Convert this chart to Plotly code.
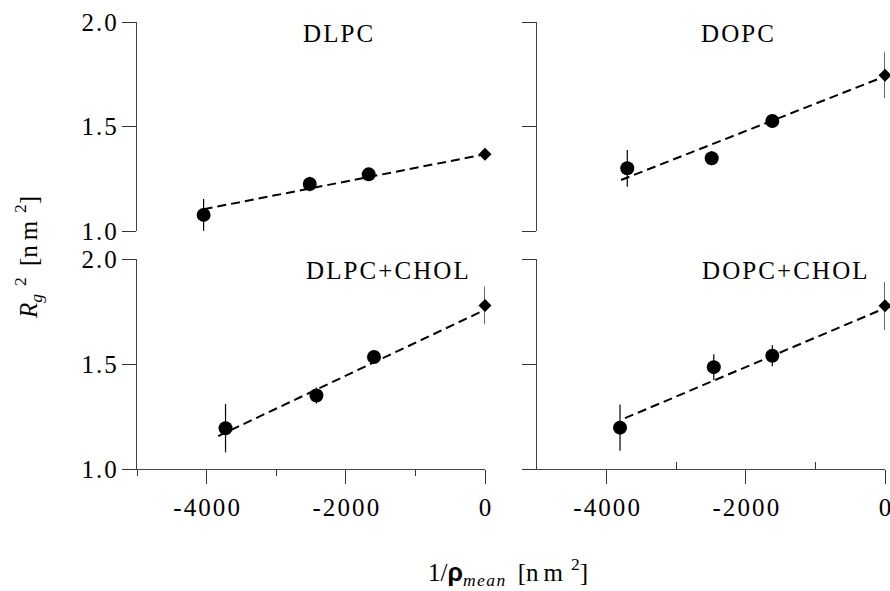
import plotly.graph_objects as go

# ---------------- data ----------------
panel_names = ["DLPC", "DOPC", "DLPC+CHOL", "DOPC+CHOL"]

# measured points (circles)
dlpc_x = [-4043, -2518, -1671]
dlpc_y = [1.077, 1.225, 1.271]
dlpc_err = [0.076, 0.035, 0.018]

dopc_x = [-3703, -2490, -1619]
dopc_y = [1.300, 1.348, 1.526]
dopc_err = [0.088, 0.033, 0.020]

dlpc_chol_x = [-3728, -2422, -1595]
dlpc_chol_y = [1.194, 1.350, 1.533]
dlpc_chol_err = [0.115, 0.038, 0.020]

dopc_chol_x = [-3807, -2460, -1619]
dopc_chol_y = [1.197, 1.485, 1.539]
dopc_chol_err = [0.110, 0.061, 0.050]

# extrapolated values at 1/rho = 0 (diamonds)
zero_x = [0, 0, 0, 0]
zero_y = [1.367, 1.745, 1.779, 1.777]
zero_err = [0.012, 0.110, 0.090, 0.114]

# dashed fit lines: start x, start y, end x, end y
fit_x0 = [-4043, -3793, -3833, -3736]
fit_y0 = [1.104, 1.244, 1.157, 1.242]
fit_x1 = [0, 0, 0, 0]
fit_y1 = [1.367, 1.740, 1.758, 1.766]

y_tickvals = [1.0, 1.5, 2.0]
y_ticktext = ["1.0", "1.5", "2.0"]
x_tickvals = [-4000, -2000, 0]
x_ticktext = ["-4000", "-2000", "0"]

pts_x = [dlpc_x, dopc_x, dlpc_chol_x, dopc_chol_x]
pts_y = [dlpc_y, dopc_y, dlpc_chol_y, dopc_chol_y]
pts_e = [dlpc_err, dopc_err, dlpc_chol_err, dopc_chol_err]

# ---------------- layout helpers ----------------
W, H = 890, 591
HS = "\u200a"


def spaced(s):
    return HS.join(list(s))


def fx(px):
    return px / W


def fy(py):
    return 1 - py / H


FONT = "Liberation Serif"
fig = go.Figure()

axes = [("x", "y"), ("x2", "y2"), ("x3", "y3"), ("x4", "y4")]
for i in range(4):
    xa, ya = axes[i]
    fig.add_trace(go.Scatter(
        x=[fit_x0[i], fit_x1[i]], y=[fit_y0[i], fit_y1[i]],
        mode="lines", line=dict(color="black", width=2, dash="9px,5px"),
        xaxis=xa, yaxis=ya, showlegend=False, hoverinfo="skip"))
    fig.add_trace(go.Scatter(
        x=pts_x[i], y=pts_y[i], mode="markers",
        marker=dict(symbol="circle", size=14, color="black"),
        error_y=dict(type="data", array=pts_e[i], color="black",
                     thickness=1.2, width=0),
        xaxis=xa, yaxis=ya, showlegend=False, cliponaxis=False))
    fig.add_trace(go.Scatter(
        x=[zero_x[i]], y=[zero_y[i]], mode="markers",
        marker=dict(symbol="diamond", size=10, color="black"),
        error_y=dict(type="data", array=[zero_err[i]], color="black",
                     thickness=1.2, width=0),
        xaxis=xa, yaxis=ya, showlegend=False, cliponaxis=False))

xl = [fx(137), fx(485)]
xr = [fx(537), fx(885)]
yt = [fy(231), fy(22)]
yb = [fy(469), fy(259)]

tickfont = dict(family=FONT, size=25, color="black")

base_y = dict(range=[1.0, 2.0], showline=True, linecolor="#444", linewidth=1.3,
              ticks="outside", ticklen=14, tickcolor="#333", tickwidth=1.2,
              tickvals=y_tickvals, showgrid=False, zeroline=False,
              tickfont=tickfont, automargin=False)
base_x_hidden = dict(range=[-5000, 0], visible=False, showgrid=False, zeroline=False)
base_x = dict(range=[-5000, 0], showline=True, linecolor="#444", linewidth=1.3,
              ticks="outside", ticklen=14, tickcolor="#333", tickwidth=1.2,
              tickvals=x_tickvals, ticktext=[spaced(t) for t in x_ticktext],
              showgrid=False, zeroline=False, tickfont=tickfont, automargin=False,
              ticklabelstandoff=2, ticklabeloverflow="allow")

fig.update_layout(
    width=W, height=H,
    margin=dict(l=0, r=0, t=0, b=0),
    plot_bgcolor="white", paper_bgcolor="white",
    xaxis=dict(domain=xl, anchor="y", **base_x_hidden),
    xaxis2=dict(domain=xr, anchor="y2", **base_x_hidden),
    xaxis3=dict(domain=xl, anchor="y3",
                minor=dict(ticks="outside", ticklen=6, tickcolor="#333",
                           tickvals=[-5000, -3000, -1000]),
                **base_x),
    xaxis4=dict(domain=xr, anchor="y4",
                minor=dict(ticks="inside", ticklen=7, tickcolor="#333",
                           tickvals=[-3000, -1000]),
                **base_x),
    yaxis=dict(domain=yt, anchor="x", ticktext=[spaced(t) for t in y_ticktext],
               **base_y),
    yaxis2=dict(domain=yt, anchor="x2", showticklabels=False, **base_y),
    yaxis3=dict(domain=yb, anchor="x3", ticktext=[spaced(t) for t in y_ticktext],
                **base_y),
    yaxis4=dict(domain=yb, anchor="x4", showticklabels=False, **base_y),
)

title_pos = [(338, 33), (737, 33), (387, 270), (785, 270)]
for name, (px, py) in zip(panel_names, title_pos):
    fig.add_annotation(x=fx(px), y=fy(py), xref="paper", yref="paper",
                       text=spaced(name), showarrow=False,
                       font=dict(family=FONT, size=25, color="black"),
                       xanchor="center", yanchor="middle")

fig.add_annotation(x=fx(28), y=fy(258), xref="paper", yref="paper",
                   text="<i>R</i><sub><i>g</i></sub><sup>\u2009 2</sup>\u2009 [n\u2009m<sup>\u2009 2</sup>]",
                   textangle=-90, showarrow=False,
                   font=dict(family=FONT, size=25, color="black"),
                   xanchor="center", yanchor="middle")

fig.add_annotation(x=fx(508), y=fy(572), xref="paper", yref="paper",
                   text="1/<span style=\"font-family:Liberation Sans\"><b>\u03c1</b></span>"
                        "<sub><i>m\u200ae\u200aa\u200an</i></sub>  [n\u2009m<sup>\u2009 2</sup>]",
                   showarrow=False,
                   font=dict(family=FONT, size=25, color="black"),
                   xanchor="center", yanchor="middle")

fig.write_html("out.html", config={"displayModeBar": False},
               post_script="document.body.style.margin='0';document.body.style.overflow='hidden';")
